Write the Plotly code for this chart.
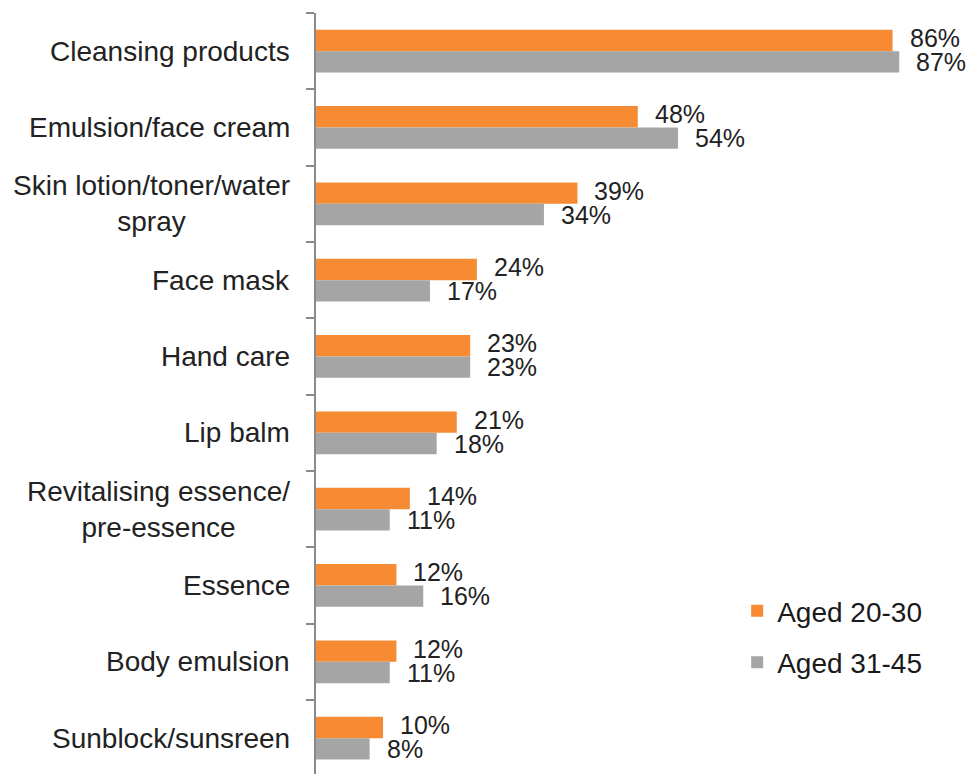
import plotly.graph_objects as go

categories = ["Cleansing products", "Emulsion/face cream", "Skin lotion/toner/water<br>spray",
              "Face mask", "Hand care", "Lip balm", "Revitalising essence/<br>pre-essence",
              "Essence", "Body emulsion", "Sunblock/sunsreen"]
aged_20_30 = [86, 48, 39, 24, 23, 21, 14, 12, 12, 10]
aged_31_45 = [87, 54, 34, 17, 23, 18, 11, 16, 11, 8]
series_names = ["Aged 20-30", "Aged 31-45"]

ORANGE = "#F68B33"
GRAY = "#A5A5A5"
TXT = "#222222"
FONT = "Liberation Sans, Arial, sans-serif"

fig = go.Figure()
fig.add_trace(go.Bar(y=categories, x=aged_20_30, orientation="h", name=series_names[0],
                     marker=dict(color=ORANGE, line=dict(width=0)), legendgroup="a"))
fig.add_trace(go.Bar(y=categories, x=aged_31_45, orientation="h", name=series_names[1],
                     marker=dict(color=GRAY, line=dict(width=0)), legendgroup="b"))

annotations = []
for cat, v1, v2 in zip(categories, aged_20_30, aged_31_45):
    annotations.append(dict(x=v1, y=cat, xref="x", yref="y", text=f"{v1}%", showarrow=False,
                            xanchor="left", yanchor="middle", xshift=15, yshift=13,
                            font=dict(size=25, color=TXT, family=FONT)))
    annotations.append(dict(x=v2, y=cat, xref="x", yref="y", text=f"{v2}%", showarrow=False,
                            xanchor="left", yanchor="middle", xshift=15, yshift=-11,
                            font=dict(size=25, color=TXT, family=FONT)))
    annotations.append(dict(x=0, y=cat, xref="paper", yref="y", text=cat, showarrow=False,
                            xanchor="right", yanchor="middle", align="center", xshift=-24,
                            font=dict(size=28, color=TXT, family=FONT)))

fig.update_layout(
    width=971, height=774,
    margin=dict(l=316, r=0, t=13, b=0, pad=0),
    paper_bgcolor="white", plot_bgcolor="white",
    barmode="group", bargap=0.44, bargroupgap=0,
    font=dict(family=FONT, color=TXT, size=28),
    showlegend=True,
    legend=dict(x=0.643, y=0.247, xanchor="left", yanchor="top",
                font=dict(size=28, color="#1a1a1a", family=FONT),
                traceorder="grouped", tracegroupgap=12, bgcolor="rgba(0,0,0,0)"),
    xaxis=dict(range=[0, 97.7], showgrid=False, zeroline=False, showticklabels=False,
               ticks="", showline=False),
    yaxis=dict(type="category", range=[9.47, -0.5], showgrid=False, zeroline=False,
               showticklabels=False, ticks="outside", tickson="boundaries", ticklen=8,
               tickcolor="#8a8a8a", tickwidth=1.5, showline=True, linecolor="#8a8a8a",
               linewidth=1.5),
    annotations=annotations,
)

fig.write_html("out.html")
